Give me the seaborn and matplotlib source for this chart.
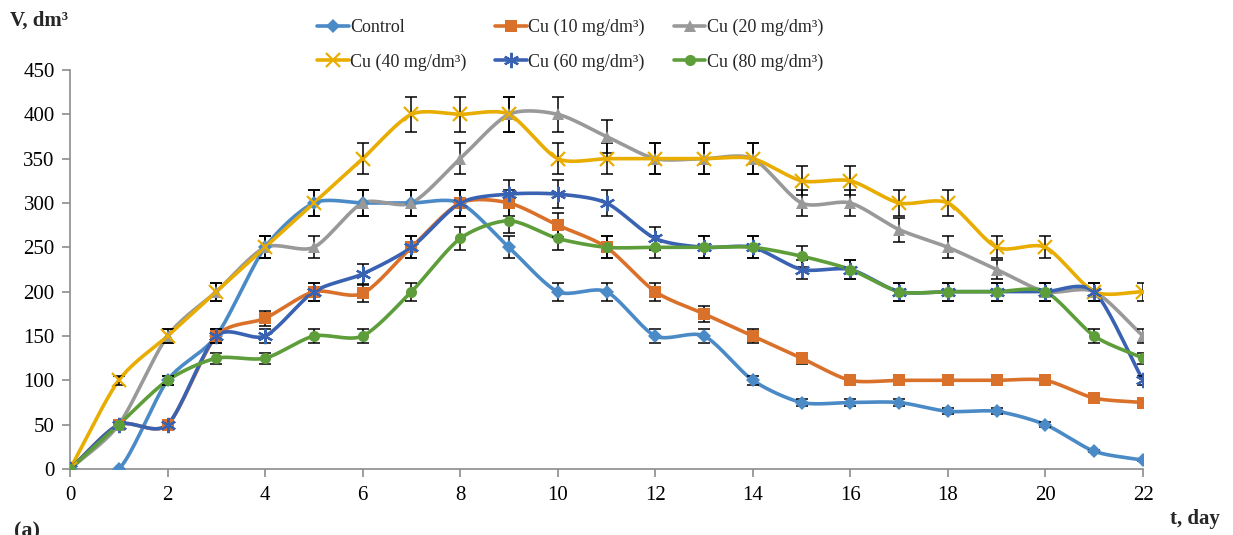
import numpy as np
import pandas as pd
import matplotlib
matplotlib.use("Agg")
import matplotlib.pyplot as plt
import seaborn as sns

days = list(range(23))
control = [0, 0, 100, 150, 250, 300, 300, 300, 300, 250, 200, 200, 150, 150, 100, 75, 75, 75, 65, 65, 50, 20, 10]
cu10 = [0, 50, 50, 150, 170, 200, 198, 250, 300, 300, 275, 250, 200, 175, 150, 125, 100, 100, 100, 100, 100, 80, 75]
cu20 = [0, 50, 150, 200, 250, 250, 300, 300, 350, 400, 400, 375, 350, 350, 350, 300, 300, 270, 250, 225, 200, 200, 150]
cu40 = [0, 100, 150, 200, 250, 300, 350, 400, 400, 400, 350, 350, 350, 350, 350, 325, 325, 300, 300, 250, 250, 200, 200]
cu60 = [0, 50, 50, 150, 150, 200, 220, 250, 300, 310, 310, 300, 260, 250, 250, 225, 225, 200, 200, 200, 200, 200, 100]
cu80 = [0, 50, 100, 125, 125, 150, 150, 200, 260, 280, 260, 250, 250, 250, 250, 240, 225, 200, 200, 200, 200, 150, 125]
labels = ["Control", "Cu (10 mg/dm³)", "Cu (20 mg/dm³)", "Cu (40 mg/dm³)", "Cu (60 mg/dm³)", "Cu (80 mg/dm³)"]
err_frac = 0.05

series = [control, cu10, cu20, cu40, cu60, cu80]
colors = ["#4A8AC6", "#D9712B", "#999999", "#E8AD00", "#3A62B2", "#5E9E3A"]
markers = ["D", "s", "^", "x", (6, 2, 0), "o"]
msizes = [7, 8, 8, 10, 11, 8]

sns.set_style("white")
plt.rcParams['font.family'] = ['Liberation Serif', 'DejaVu Serif']

def smooth(x, y, n=20):
    x = np.asarray(x, float); y = np.asarray(y, float)
    px = np.concatenate([[2 * x[0] - x[1]], x, [2 * x[-1] - x[-2]]])
    py = np.concatenate([[2 * y[0] - y[1]], y, [2 * y[-1] - y[-2]]])
    xs, ys = [], []
    t = np.linspace(0, 1, n, endpoint=False)
    for i in range(1, len(px) - 2):
        p0, p1, p2, p3 = py[i - 1], py[i], py[i + 1], py[i + 2]
        q0, q1, q2, q3 = px[i - 1], px[i], px[i + 1], px[i + 2]
        tau = 0.5 * 0.8
        m1y, m2y = tau * (p2 - p0), tau * (p3 - p1)
        m1x, m2x = tau * (q2 - q0), tau * (q3 - q1)
        h00 = 2 * t**3 - 3 * t**2 + 1
        h10 = t**3 - 2 * t**2 + t
        h01 = -2 * t**3 + 3 * t**2
        h11 = t**3 - t**2
        xs.append(h00 * q1 + h10 * m1x + h01 * q2 + h11 * m2x)
        ys.append(h00 * p1 + h10 * m1y + h01 * p2 + h11 * m2y)
    xs.append([x[-1]]); ys.append([y[-1]])
    return np.concatenate(xs), np.concatenate(ys)

fig = plt.figure(figsize=(12.33, 5.35), dpi=100)
ax = fig.add_axes([70 / 1233, 66 / 535, 1073 / 1233, 399 / 535])

handles = []
for vals, lab, c, m, ms in zip(series, labels, colors, markers, msizes):
    sx, sy = smooth(days, vals)
    dfl = pd.DataFrame({"t": sx, "v": sy})
    sns.lineplot(data=dfl, x="t", y="v", ax=ax, color=c, lw=2.6, sort=False, legend=False, zorder=2)
    v = np.asarray(vals, float)
    ax.errorbar(days, v, yerr=v * err_frac, fmt="none", ecolor="black", elinewidth=1.1,
                capsize=4, capthick=1.1, zorder=3)
    mew = 1.6 if m in ("x", (6, 2, 0)) else 0
    ax.plot(days, v, linestyle="none", marker=m, markersize=ms, color=c, mec=c, mew=mew, zorder=4)
    h, = ax.plot([], [], color=c, lw=2.6, marker=m, markersize=ms, mec=c, mew=mew)
    handles.append(h)

ax.set_xlim(0, 22)
ax.set_ylim(0, 450)
ax.set_xticks(range(0, 23, 2))
ax.set_yticks(range(0, 451, 50))
ax.set_xlabel("")
ax.set_ylabel("")
for s in ["top", "right"]:
    ax.spines[s].set_visible(False)
for s in ["left", "bottom"]:
    ax.spines[s].set_color("#8C8C8C")
    ax.spines[s].set_linewidth(1.2)
ax.tick_params(axis="both", which="both", direction="out", length=6, width=1.2, color="#8C8C8C",
               labelsize=15, labelcolor="black", left=True, bottom=True, pad=5)
ax.xaxis.set_tick_params(pad=6)

order = [0, 3, 1, 4, 2, 5]
fig.legend([handles[i] for i in order], [labels[i] for i in order], ncol=3, loc="upper left",
           bbox_to_anchor=(317 / 1233, 1 - 19 / 535), frameon=False, fontsize=13,
           handlelength=1.75, handletextpad=0.08, columnspacing=1.6, labelspacing=0.95,
           borderaxespad=0, borderpad=0)

fig.text(10 / 1233, 1 - 21 / 535, "V, dm³", fontsize=15, fontweight="bold", va="center", ha="left")
fig.text(1220 / 1233, 1 - 519 / 535, "t, day", fontsize=15, fontweight="bold", va="center", ha="right")
fig.text(14 / 1233, 1 - 521 / 535, "(a)", fontsize=16, fontweight="bold", va="top", ha="left")

fig.savefig("out.png", dpi=100)
